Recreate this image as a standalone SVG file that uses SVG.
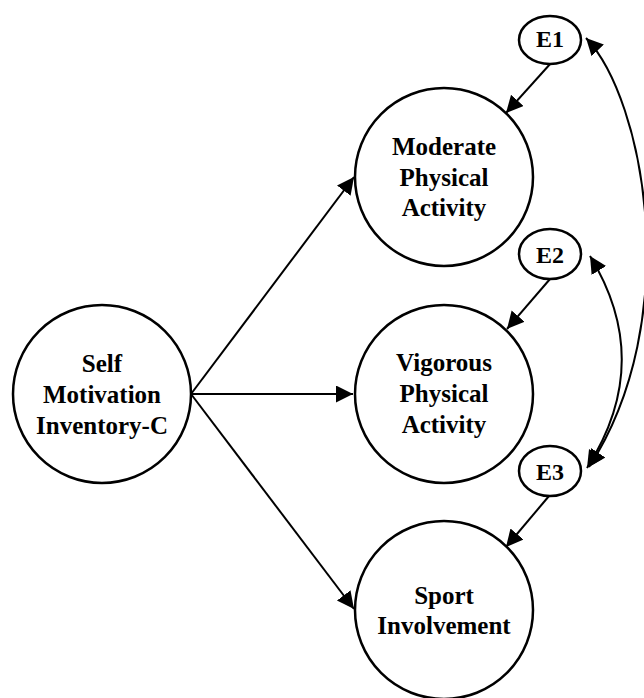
<svg xmlns="http://www.w3.org/2000/svg" width="644" height="698" viewBox="0 0 644 698">
<style>
.node{fill:#fff;stroke:#000;stroke-width:2.5}
.t{font-family:"Liberation Serif","Times New Roman",serif;font-weight:bold;font-size:25px;text-anchor:middle;fill:#000}
.e{font-size:24px}
.c{fill:none;stroke:#000;stroke-width:2}
</style>
<defs>
<marker id="ah" markerUnits="userSpaceOnUse" markerWidth="18" markerHeight="18" refX="17" refY="8.5" orient="auto-start-reverse">
<path d="M0,0 L17,8.5 L0,17 z" fill="#000"/>
</marker>
</defs>
<rect width="644" height="698" fill="#fff"/>
<g id="connectors">
<path class="c" d="M191,394 L354,177" marker-end="url(#ah)"/>
<path class="c" d="M191,394 L353,394" marker-end="url(#ah)"/>
<path class="c" d="M191,394 L354,609" marker-end="url(#ah)"/>
<path class="c" d="M551,63 L506,113" marker-end="url(#ah)"/>
<path class="c" d="M550,279 L507,329" marker-end="url(#ah)"/>
<path class="c" d="M549,496 L506,547" marker-end="url(#ah)"/>
<path class="c" d="M586,38 C645,100 685,320 589,467" marker-start="url(#ah)" marker-end="url(#ah)"/>
<path class="c" d="M590,256 Q655,362 587,468" marker-start="url(#ah)" marker-end="url(#ah)"/>
</g>
<g id="smi">
<circle class="node" cx="102" cy="394" r="89"/>
<text class="t" x="102" y="372">Self</text>
<text class="t" x="102" y="403">Motivation</text>
<text class="t" x="102" y="434">Inventory-C</text>
</g>
<g id="moderate">
<circle class="node" cx="444" cy="177" r="89"/>
<text class="t" x="444" y="155">Moderate</text>
<text class="t" x="444" y="186">Physical</text>
<text class="t" x="444" y="216">Activity</text>
</g>
<g id="vigorous">
<circle class="node" cx="444" cy="394" r="89"/>
<text class="t" x="444" y="371">Vigorous</text>
<text class="t" x="444" y="402">Physical</text>
<text class="t" x="444" y="433">Activity</text>
</g>
<g id="sport">
<circle class="node" cx="444" cy="610" r="89"/>
<text class="t" x="444" y="604">Sport</text>
<text class="t" x="444" y="634">Involvement</text>
</g>
<g id="e1">
<ellipse class="node" cx="550" cy="40" rx="31" ry="24"/>
<text class="t e" x="550" y="47">E1</text>
</g>
<g id="e2">
<ellipse class="node" cx="550" cy="254" rx="31" ry="25"/>
<text class="t e" x="550" y="263">E2</text>
</g>
<g id="e3">
<ellipse class="node" cx="550" cy="471" rx="31" ry="25"/>
<text class="t e" x="550" y="480">E3</text>
</g>
</svg>
